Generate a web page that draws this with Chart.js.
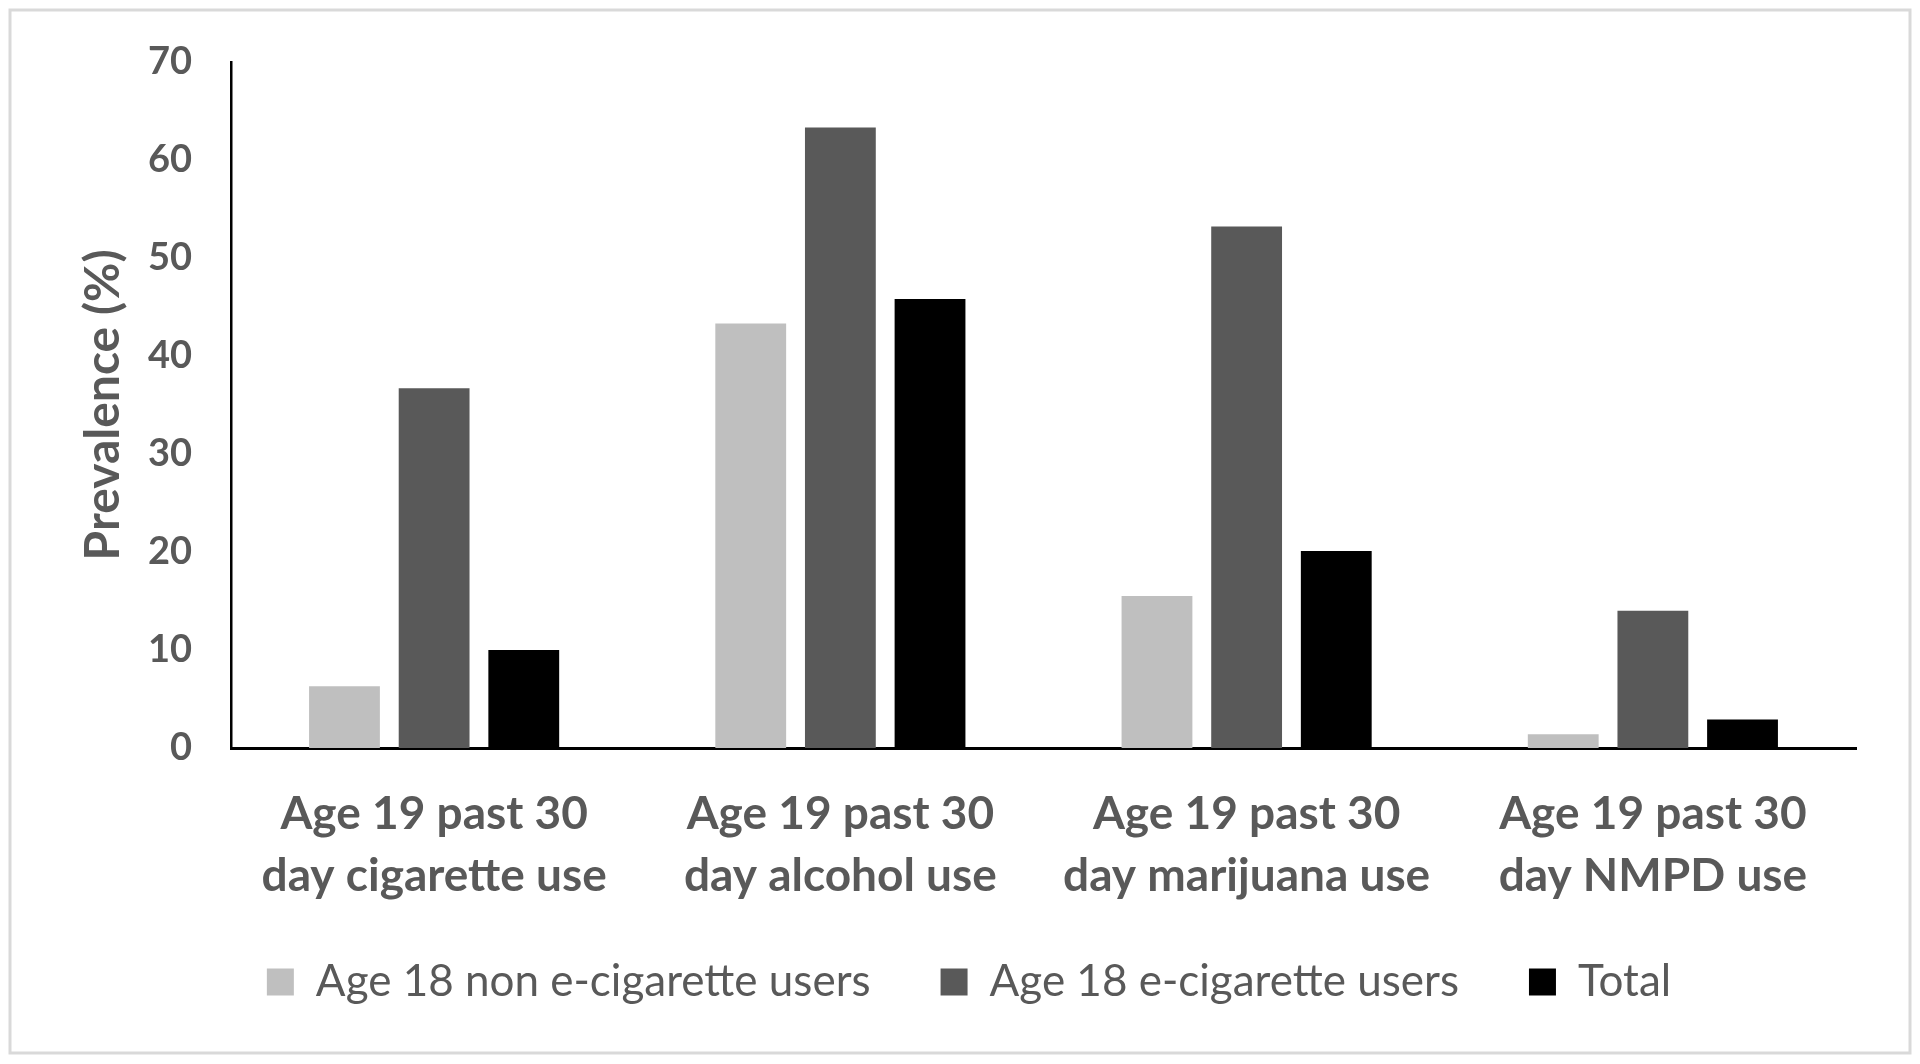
<!DOCTYPE html>
<html>
<head>
<meta charset="utf-8">
<script src="https://cdn.jsdelivr.net/npm/chart.js@4.4.1/dist/chart.umd.min.js"></script>
<style>
html,body{margin:0;padding:0;background:#fff;}
#wrap{width:1920px;height:1064px;position:relative;}
</style>
</head>
<body>
<div id="wrap"><canvas id="c" width="1920" height="1064"></canvas></div>
<script>
const categories = [
  ["Age 19 past 30", "day cigarette use"],
  ["Age 19 past 30", "day alcohol use"],
  ["Age 19 past 30", "day marijuana use"],
  ["Age 19 past 30", "day NMPD use"]
];
const seriesNames = ["Age 18 non e-cigarette users", "Age 18 e-cigarette users", "Total"];
const nonUsers = [6.3, 43.3, 15.5, 1.4];
const eCigUsers = [36.7, 63.3, 53.2, 14.0];
const total = [10.0, 45.8, 20.1, 2.9];
const yTicks = [0, 10, 20, 30, 40, 50, 60, 70];
const yTitle = "Prevalence (%)";

const textColor = "#595959";

const framePlugin = {
  id: 'frame',
  beforeDraw(chart) {
    const ctx = chart.ctx;
    ctx.save();
    ctx.fillStyle = '#ffffff';
    ctx.fillRect(0, 0, chart.width, chart.height);
    ctx.strokeStyle = '#d9d9d9';
    ctx.lineWidth = 3;
    ctx.strokeRect(10, 10, 1900, 1043);
    ctx.restore();
  }
};

// nudge the legend box (its inner padding also sets item spacing)
const legendShift = {
  id: 'legendShift',
  afterLayout(chart) {
    const lg = chart.legend;
    if (!lg) return;
    lg.top -= 18; lg.bottom -= 18;
    lg.left += 31; lg.right += 31;
  }
};

new Chart(document.getElementById('c'), {
  type: 'bar',
  data: {
    labels: categories,
    datasets: [
      { label: seriesNames[0], data: nonUsers, backgroundColor: '#bfbfbf', borderWidth: 0 },
      { label: seriesNames[1], data: eCigUsers, backgroundColor: '#595959', borderWidth: 0 },
      { label: seriesNames[2], data: total, backgroundColor: '#000000', borderWidth: 0 }
    ]
  },
  options: {
    responsive: false,
    animation: false,
    devicePixelRatio: 1,
    categoryPercentage: 0.662,
    barPercentage: 0.79,
    layout: { padding: { top: 61, right: 64, left: 20, bottom: 32 } },
    plugins: {
      tooltip: { enabled: false },
      legend: {
        position: 'bottom',
        labels: {
          boxWidth: 27,
          boxHeight: 27,
          padding: 70,
          color: textColor,
          font: { family: 'Lato', size: 44, weight: 'normal' }
        }
      }
    },
    scales: {
      x: {
        grid: { display: false, drawTicks: false },
        border: { display: true, color: '#000000', width: 3 },
        ticks: {
          color: textColor,
          padding: 35,
          maxRotation: 0,
          autoSkip: false,
          font: { family: 'Lato', size: 46, weight: 'bold', lineHeight: 1.35 }
        },
        afterFit(scale) { scale.height = 160; }
      },
      y: {
        min: 0,
        max: 70,
        afterBuildTicks(scale) { scale.ticks = yTicks.map(v => ({ value: v })); },
        grid: { display: false, drawTicks: false },
        border: { display: true, color: '#000000', width: 2.5 },
        ticks: {
          color: textColor,
          padding: 39,
          font: { family: 'Lato', size: 38, weight: 'bold' }
        },
        title: {
          display: true,
          text: yTitle,
          color: textColor,
          padding: { top: 55, bottom: 0 },
          font: { family: 'Lato', size: 48, weight: 'bold', lineHeight: 1.2 }
        },
        afterFit(scale) { scale.width = 211; }
      }
    }
  },
  plugins: [framePlugin, legendShift]
});
</script>
</body>
</html>
